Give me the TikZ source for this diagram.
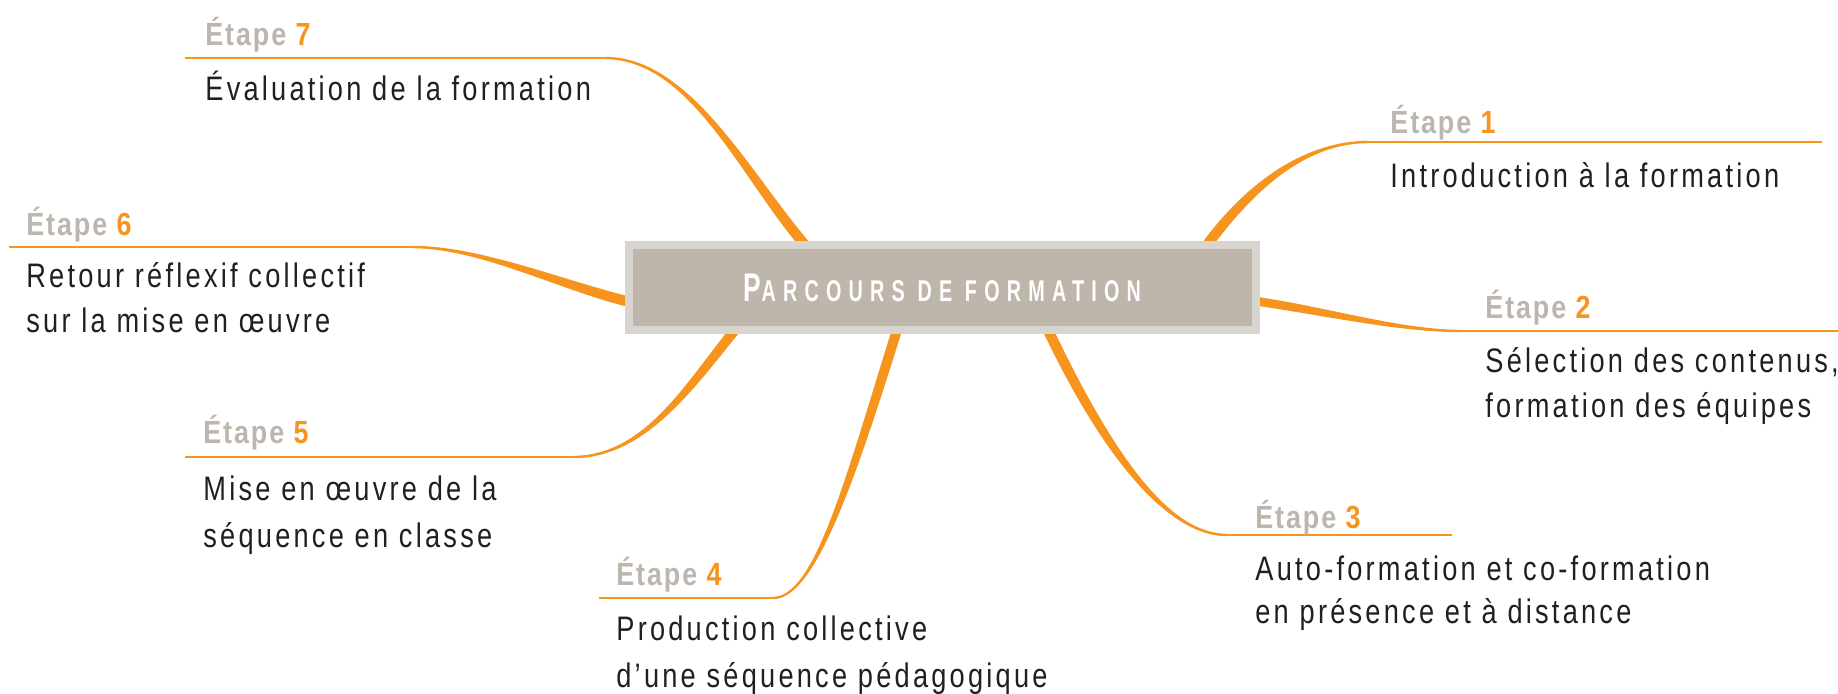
\documentclass[tikz,border=0pt]{standalone}
\usepackage{fontspec}
\setmainfont{Liberation Sans}
\newfontfamily\bodyfont{Liberation Sans}[FakeStretch=0.8,LetterSpace=9.5]
\newfontfamily\labfont{Liberation Sans}[FakeStretch=0.84,LetterSpace=6]
\newfontfamily\titfont{Liberation Sans}[FakeStretch=0.66,LetterSpace=24]
\usetikzlibrary{calc}
\definecolor{orng}{RGB}{247,148,30}
\definecolor{labgray}{RGB}{189,182,174}
\definecolor{txt}{RGB}{35,31,32}
\definecolor{boxout}{RGB}{216,213,206}
\definecolor{boxin}{RGB}{190,181,171}
\tikzset{
  stepline/.style={draw=orng, line width=1.25pt},
  branchfill/.style={fill=orng},
  steplabel/.style={anchor=base west, inner sep=0pt, font=\labfont\bfseries\fontsize{16}{19}\selectfont},
  steptext/.style={anchor=base west, inner sep=0pt, text=txt, font=\bodyfont\fontsize{17}{20}\selectfont},
  boxst/.style={draw=boxout, line width=4pt, fill=boxin, minimum width=313.5pt, minimum height=42.5pt, inner sep=0pt, text=white}
}
% #1 start, #2 c1, #3 c2, #4 end, #5 start half width, #6 end half width
\newcommand\branch[6]{%
  \path ($(#1)!#5!90:(#2)$) coordinate (sa) ($(#1)!#5!-90:(#2)$) coordinate (sb)
        ($(#4)!#6!-90:(#3)$) coordinate (ea) ($(#4)!#6!90:(#3)$) coordinate (eb);
  \fill[branchfill] (sa) .. controls ($(#2)+(sa)-(#1)$) and ($(#3)+(ea)-(#4)$) .. (ea)
     -- (eb) .. controls ($(#3)+(eb)-(#4)$) and ($(#2)+(sb)-(#1)$) .. (sb) -- cycle;
}
\newcommand\etape[1]{{\color{labgray}Étape} {\color{orng}#1}}
\begin{document}
\begin{tikzpicture}[x=0.5pt,y=-0.5pt]
\useasboundingbox (0,0) rectangle (1838,693);
\fill[white] (0,0) rectangle (1838,693);

% line end points
\coordinate (l1s) at (1368,142); \coordinate (l1e) at (1822,142);
\coordinate (l2s) at (1462,331); \coordinate (l2e) at (1838,331);
\coordinate (l3s) at (1227,535); \coordinate (l3e) at (1452,535);
\coordinate (l4s) at (599,598);  \coordinate (l4e) at (773,598);
\coordinate (l5s) at (185,457);  \coordinate (l5e) at (573,457);
\coordinate (l6s) at (9,247);    \coordinate (l6e) at (412,247);
\coordinate (l7s) at (185,58);   \coordinate (l7e) at (605,58);

% branch control points and box attachment points
\coordinate (a1) at (1310,142); \coordinate (c1) at (1255,180); \coordinate (b1) at (1207,245);
\coordinate (a2) at (1400,331); \coordinate (c2) at (1330,312); \coordinate (b2) at (1255,301);
\coordinate (a3) at (1170,535); \coordinate (c3) at (1110,460); \coordinate (b3) at (1048,330);
\coordinate (a4) at (815,598);  \coordinate (c4) at (850,480);  \coordinate (b4) at (897,330);
\coordinate (a5) at (645,457);  \coordinate (c5) at (690,385);  \coordinate (b5) at (735,330);
\coordinate (a6) at (480,247);  \coordinate (c6) at (560,285);  \coordinate (b6) at (630,302);
\coordinate (a7) at (690,58);   \coordinate (c7) at (745,175);  \coordinate (b7) at (805,245);

\branch{l1s}{a1}{c1}{b1}{0.6pt}{2.6pt}
\branch{l2s}{a2}{c2}{b2}{0.6pt}{2.2pt}
\branch{l3s}{a3}{c3}{b3}{0.6pt}{2.6pt}
\branch{l4e}{a4}{c4}{b4}{0.6pt}{2.5pt}
\branch{l5e}{a5}{c5}{b5}{0.6pt}{2.5pt}
\branch{l6e}{a6}{c6}{b6}{0.6pt}{2.6pt}
\branch{l7e}{a7}{c7}{b7}{0.6pt}{2.6pt}

\draw[stepline] (l1s) -- (l1e);
\draw[stepline] (l2s) -- (l2e);
\draw[stepline] (l3s) -- (l3e);
\draw[stepline] (l4s) -- (l4e);
\draw[stepline] (l5s) -- (l5e);
\draw[stepline] (l6s) -- (l6e);
\draw[stepline] (l7s) -- (l7e);

\node[boxst] (box) at (942.5,287.5) {\titfont\bfseries\fontsize{20}{22}\selectfont P{\fontsize{15}{18}\selectfont ARCOURS DE FORMATION}};

% labels and texts
\node[steplabel] (e1) at (1390,133) {\etape{1}};
\node[steptext] (t1a) at (1390,187) {Introduction à la formation};

\node[steplabel] (e2) at (1485,318) {\etape{2}};
\node[steptext] (t2a) at (1485,372) {Sélection des contenus,};
\node[steptext] (t2b) at (1485,417) {formation des équipes};

\node[steplabel] (e3) at (1255,528) {\etape{3}};
\node[steptext] (t3a) at (1255,580) {Auto-formation et co-formation};
\node[steptext] (t3b) at (1255,623) {en présence et à distance};

\node[steplabel] (e4) at (616,585) {\etape{4}};
\node[steptext] (t4a) at (616,640) {Production collective};
\node[steptext] (t4b) at (616,687) {d’une séquence pédagogique};

\node[steplabel] (e5) at (203,443) {\etape{5}};
\node[steptext] (t5a) at (203,500) {Mise en œuvre de la};
\node[steptext] (t5b) at (203,547) {séquence en classe};

\node[steplabel] (e6) at (26,235) {\etape{6}};
\node[steptext] (t6a) at (26,287) {Retour réflexif collectif};
\node[steptext] (t6b) at (26,332) {sur la mise en œuvre};

\node[steplabel] (e7) at (205,45) {\etape{7}};
\node[steptext] (t7a) at (205,100) {Évaluation de la formation};
\end{tikzpicture}
\end{document}
